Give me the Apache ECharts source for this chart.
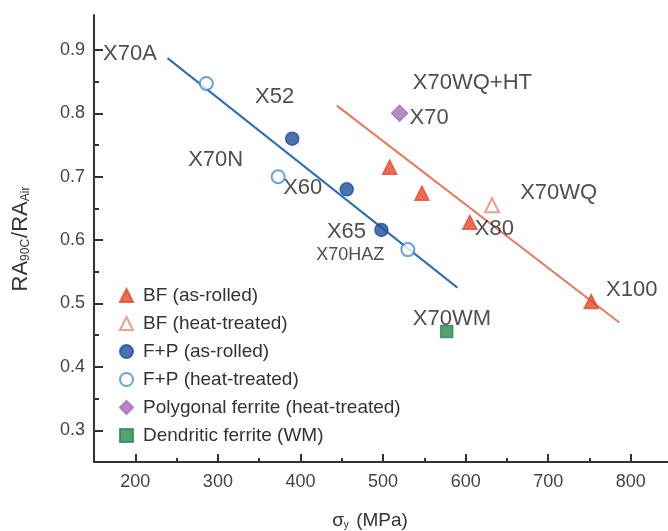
<!DOCTYPE html>
<html>
<head>
<meta charset="utf-8">
<script src="https://cdn.jsdelivr.net/npm/echarts@6/dist/echarts.min.js"></script>
<style>
  html, body { margin: 0; padding: 0; background: #fff; }
  #chart { width: 668px; height: 531px; }
</style>
</head>
<body>
<div id="chart"></div>
<script>
// data: [sigma_y (MPa), RA ratio]
const bfRolled = [[508, 0.715], [547, 0.674], [605, 0.628], [752, 0.503]];
const bfHeat = [[632, 0.655]];
const fpRolled = [[390, 0.760], [456, 0.680], [498, 0.616]];
const fpHeat = [[286, 0.847], [373, 0.700], [530, 0.585]];
const polyFerrite = [[520, 0.800]];
const dendFerrite = [[577, 0.456]];

// fitted trend lines (end points)
const fpFit = [[239, 0.887], [590, 0.525]];
const bfFit = [[444, 0.812], [786, 0.470]];

// steel grade labels: [x, y, text]
const gradeLabels = [
  [161, 0.894, "X70A"],
  [345, 0.825, "X52"],
  [264, 0.726, "X70N"],
  [379, 0.682, "X60"],
  [432, 0.613, "X65"],
  [536, 0.848, "X70WQ+HT"],
  [532, 0.792, "X70"],
  [666, 0.674, "X70WQ"],
  [611, 0.617, "X80"],
  [770, 0.522, "X100"],
  [536, 0.475, "X70WM"]
];
const smallLabels = [[419, 0.577, "X70HAZ"]];

const xMajor = [200, 300, 400, 500, 600, 700, 800];
const xMinor = [250, 350, 450, 550, 650, 750];
const yMajor = [0.3, 0.4, 0.5, 0.6, 0.7, 0.8, 0.9];
const yMinor = [0.35, 0.45, 0.55, 0.65, 0.75, 0.85];

const FONT = '"Liberation Sans", Arial, sans-serif';
const AXIS = "#333";

const chart = echarts.init(document.getElementById("chart"));

function scatter(name, data, symbol, size, color) {
  return {
    name: name,
    type: "scatter",
    data: data,
    symbol: symbol,
    symbolSize: size,
    itemStyle: { color: color, borderColor: color, borderWidth: 1.5 },
    z: 5
  };
}

function textLayer(data, size) {
  return {
    type: "scatter",
    data: data,
    symbolSize: 0,
    silent: true,
    z: 6,
    label: {
      show: true,
      position: "right",
      distance: 0,
      formatter: (p) => p.data[2],
      fontFamily: FONT,
      fontSize: size,
      color: "#222"
    }
  };
}

function fitLine(data, color) {
  return {
    type: "line",
    data: data,
    showSymbol: false,
    silent: true,
    lineStyle: { color: color, width: 2 },
    z: 3
  };
}

chart.setOption({
  animation: false,
  textStyle: { fontFamily: FONT },
  grid: { left: 94, top: 15, right: 0, bottom: 69, outerBoundsMode: "none", containLabel: false },
  legend: {
    orient: "vertical",
    left: 114,
    top: 281,
    itemWidth: 13,
    itemHeight: 13,
    itemGap: 9,
    textStyle: { fontSize: 19, color: "#333", padding: [0, 0, 0, 5], lineHeight: 19 },
    data: [
      "BF (as-rolled)",
      "BF (heat-treated)",
      "F+P (as-rolled)",
      "F+P (heat-treated)",
      "Polygonal ferrite (heat-treated)",
      "Dendritic ferrite (WM)"
    ]
  },
  xAxis: [
    {
      type: "value",
      min: 150,
      max: 845,
      name: "{g|σ}{s|y}{g| (MPa)}",
      nameLocation: "middle",
      nameGap: 49,
      nameTextStyle: {
        padding: [0, 22, 0, 0],
        rich: {
          g: { fontSize: 19, color: "#333", fontFamily: FONT },
          s: { fontSize: 10, color: "#333", fontFamily: FONT, padding: [9, 2, 0, 0] }
        }
      },
      axisLine: { lineStyle: { color: AXIS, width: 2 } },
      axisTick: { inside: true, length: 8, customValues: xMajor, lineStyle: { color: AXIS, width: 2 } },
      axisLabel: { customValues: xMajor, fontSize: 18, color: "#444", margin: 11 },
      splitLine: { show: false }
    },
    {
      type: "value",
      min: 150,
      max: 845,
      position: "bottom",
      axisLine: { show: false },
      axisTick: { inside: true, length: 4, customValues: xMinor, lineStyle: { color: AXIS, width: 2 } },
      axisLabel: { show: false },
      splitLine: { show: false }
    }
  ],
  yAxis: [
    {
      type: "value",
      min: 0.25,
      max: 0.955,
      name: "{g|RA}{s|90C}{g|/RA}{s|Air}",
      nameLocation: "middle",
      nameRotate: 90,
      nameGap: 62,
      nameTextStyle: {
        rich: {
          g: { fontSize: 22, color: "#333", fontFamily: FONT },
          s: { fontSize: 12, color: "#333", fontFamily: FONT, padding: [11, 1, 0, 0] }
        }
      },
      axisLine: { lineStyle: { color: AXIS, width: 2 } },
      axisTick: { inside: true, length: 9, customValues: yMajor, lineStyle: { color: AXIS, width: 2 } },
      axisLabel: { customValues: yMajor, fontSize: 18, color: "#444", margin: 9, formatter: (v) => v.toFixed(1) },
      splitLine: { show: false }
    },
    {
      type: "value",
      min: 0.25,
      max: 0.955,
      position: "left",
      axisLine: { show: false },
      axisTick: { inside: true, length: 5, customValues: yMinor, lineStyle: { color: AXIS, width: 2 } },
      axisLabel: { show: false },
      splitLine: { show: false }
    }
  ],
  series: [
    fitLine(fpFit, "#2f6eb5"),
    fitLine(bfFit, "#e8785f"),
    scatter("BF (as-rolled)", bfRolled, "triangle", 14, "#e5482c"),
    scatter("BF (heat-treated)", bfHeat, "emptyTriangle", 14, "#e8846e"),
    scatter("F+P (as-rolled)", fpRolled, "circle", 13, "#1b4f9a"),
    scatter("F+P (heat-treated)", fpHeat, "emptyCircle", 13, "#3d8fd0"),
    scatter("Polygonal ferrite (heat-treated)", polyFerrite, "diamond", 16, "#a66bb5"),
    scatter("Dendritic ferrite (WM)", dendFerrite, "rect", 12, "#2b8a4e"),
    textLayer(gradeLabels, 22),
    textLayer(smallLabels, 18)
  ]
});
</script>
</body>
</html>
